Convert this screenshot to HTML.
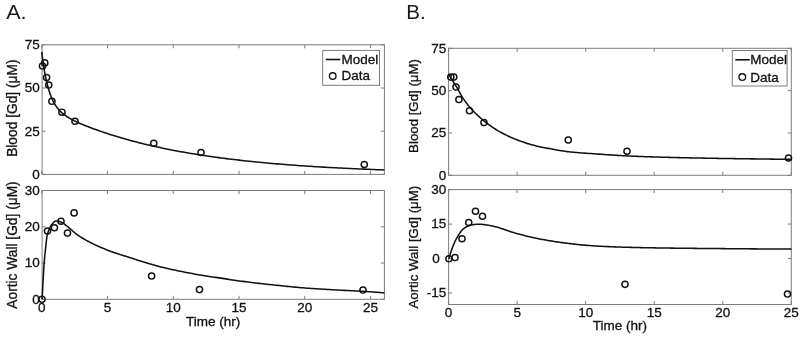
<!DOCTYPE html>
<html><head><meta charset="utf-8"><title>Figure</title>
<style>
html,body{margin:0;padding:0;background:#fff;}
svg{display:block;}
text{font-family:"Liberation Sans",sans-serif;font-size:13.5px;fill:#111;stroke:#111;stroke-width:0.3px;}
</style></head><body>
<svg width="800" height="337" viewBox="0 0 800 337">
<rect width="800" height="337" fill="#fff"/>
<rect x="42.1" y="44.8" width="342.29999999999995" height="129.60000000000002" fill="none" stroke="#7d7d7d" stroke-width="1"/>
<path d="M41.75,174.4v-3.5M41.75,44.8v3.5M107.50,174.4v-3.5M107.50,44.8v3.5M173.25,174.4v-3.5M173.25,44.8v3.5M239.00,174.4v-3.5M239.00,44.8v3.5M304.75,174.4v-3.5M304.75,44.8v3.5M370.50,174.4v-3.5M370.50,44.8v3.5M42.1,174.40h3.5M384.4,174.40h-3.5M42.1,131.20h3.5M384.4,131.20h-3.5M42.1,88.00h3.5M384.4,88.00h-3.5M42.1,44.80h3.5M384.4,44.80h-3.5" stroke="#7d7d7d" stroke-width="1" fill="none"/>
<text x="39.7" y="178.75" text-anchor="end">0</text>
<text x="39.7" y="135.55" text-anchor="end">25</text>
<text x="39.7" y="92.35" text-anchor="end">50</text>
<text x="39.7" y="49.15" text-anchor="end">75</text>
<path d="M41.75,51.88 L42.08,54.57 L42.41,57.14 L42.74,59.60 L43.08,61.95 L43.41,64.20 L43.74,66.35 L44.07,68.41 L44.40,70.38 L44.73,72.27 L45.07,74.07 L45.40,75.80 L45.73,77.46 L46.06,79.05 L46.39,80.57 L46.72,82.02 L47.05,83.42 L47.39,84.76 L47.72,86.04 L48.05,87.27 L48.38,88.46 L48.71,89.59 L49.04,90.68 L49.37,91.72 L49.71,92.73 L50.04,93.69 L50.37,94.62 L50.70,95.51 L51.03,96.37 L51.36,97.19 L51.70,97.99 L52.03,98.75 L52.36,99.49 L52.69,100.19 L53.02,100.88 L53.35,101.53 L53.68,102.17 L54.02,102.78 L54.35,103.37 L54.68,103.94 L55.01,104.49 L55.34,105.03 L55.67,105.54 L56.01,106.04 L56.34,106.52 L56.67,106.99 L57.00,107.44 L57.33,107.88 L57.66,108.30 L57.99,108.72 L58.33,109.12 L58.66,109.50 L58.99,109.88 L59.32,110.25 L59.65,110.60 L59.98,110.95 L60.31,111.29 L60.65,111.62 L60.98,111.94 L61.31,112.25 L61.64,112.55 L61.97,112.85 L62.30,113.14 L62.64,113.42 L62.97,113.70 L63.30,113.97 L63.63,114.24 L63.96,114.49 L64.29,114.75 L64.62,115.00 L64.96,115.24 L65.29,115.48 L65.62,115.71 L65.95,115.94 L66.28,116.17 L66.61,116.39 L66.94,116.61 L67.28,116.83 L67.61,117.04 L67.94,117.25 L68.27,117.45 L68.60,117.65 L68.93,117.85 L69.27,118.05 L69.60,118.24 L69.93,118.43 L70.26,118.62 L70.59,118.81 L70.92,118.99 L71.25,119.17 L71.59,119.35 L71.92,119.53 L72.25,119.70 L72.58,119.88 L72.91,120.05 L73.24,120.22 L73.58,120.39 L73.91,120.55 L74.24,120.72 L74.57,120.88 L74.90,121.04 L75.23,121.20 L75.56,121.36 L75.90,121.52 L76.23,121.68 L76.56,121.83 L76.89,121.99 L77.22,122.14 L77.55,122.29 L77.88,122.44 L78.22,122.59 L78.55,122.74 L78.88,122.89 L79.21,123.04 L79.54,123.18 L79.87,123.33 L80.21,123.47 L80.54,123.62 L80.87,123.76 L81.20,123.90 L83.75,124.97 L86.29,126.00 L88.84,127.00 L91.39,127.97 L93.94,128.92 L96.48,129.84 L99.03,130.75 L101.58,131.63 L104.12,132.49 L106.67,133.34 L109.22,134.17 L111.77,134.98 L114.31,135.77 L116.86,136.55 L119.41,137.31 L121.95,138.06 L124.50,138.79 L127.05,139.51 L129.60,140.21 L132.14,140.90 L134.69,141.57 L137.24,142.23 L139.78,142.88 L142.33,143.52 L144.88,144.14 L147.43,144.75 L149.97,145.34 L152.52,145.93 L155.07,146.50 L157.61,147.06 L160.16,147.61 L162.71,148.15 L165.26,148.68 L167.80,149.20 L170.35,149.71 L172.90,150.20 L175.44,150.69 L177.99,151.17 L180.54,151.64 L183.08,152.09 L185.63,152.54 L188.18,152.98 L190.73,153.42 L193.27,153.84 L195.82,154.25 L198.37,154.66 L200.91,155.05 L203.46,155.44 L206.01,155.83 L208.56,156.20 L211.10,156.57 L213.65,156.93 L216.20,157.28 L218.74,157.62 L221.29,157.96 L223.84,158.29 L226.39,158.61 L228.93,158.93 L231.48,159.24 L234.03,159.55 L236.57,159.85 L239.12,160.14 L241.67,160.43 L244.22,160.71 L246.76,160.99 L249.31,161.26 L251.86,161.52 L254.40,161.78 L256.95,162.03 L259.50,162.28 L262.05,162.53 L264.59,162.77 L267.14,163.00 L269.69,163.23 L272.23,163.45 L274.78,163.67 L277.33,163.89 L279.88,164.10 L282.42,164.31 L284.97,164.51 L287.52,164.71 L290.06,164.91 L292.61,165.10 L295.16,165.28 L297.71,165.47 L300.25,165.65 L302.80,165.82 L305.35,166.00 L307.89,166.17 L310.44,166.33 L312.99,166.49 L315.54,166.65 L318.08,166.81 L320.63,166.96 L323.18,167.11 L325.72,167.26 L328.27,167.40 L330.82,167.54 L333.37,167.68 L335.91,167.82 L338.46,167.95 L341.01,168.08 L343.55,168.21 L346.10,168.33 L348.65,168.45 L351.19,168.57 L353.74,168.69 L356.29,168.81 L358.84,168.92 L361.38,169.03 L363.93,169.14 L366.48,169.24 L369.02,169.35 L371.57,169.45 L374.12,169.55 L376.67,169.65 L379.21,169.74 L381.76,169.83 L384.31,169.93" fill="none" stroke="#111" stroke-width="1.55" stroke-linejoin="round"/>
<circle cx="42.50" cy="66.00" r="3.1" fill="none" stroke="#111" stroke-width="1.45"/>
<circle cx="44.75" cy="62.90" r="3.1" fill="none" stroke="#111" stroke-width="1.45"/>
<circle cx="46.60" cy="77.50" r="3.1" fill="none" stroke="#111" stroke-width="1.45"/>
<circle cx="48.75" cy="85.00" r="3.1" fill="none" stroke="#111" stroke-width="1.45"/>
<circle cx="51.90" cy="101.25" r="3.1" fill="none" stroke="#111" stroke-width="1.45"/>
<circle cx="62.00" cy="112.20" r="3.1" fill="none" stroke="#111" stroke-width="1.45"/>
<circle cx="75.00" cy="121.25" r="3.1" fill="none" stroke="#111" stroke-width="1.45"/>
<circle cx="153.75" cy="143.25" r="3.1" fill="none" stroke="#111" stroke-width="1.45"/>
<circle cx="201.00" cy="152.50" r="3.1" fill="none" stroke="#111" stroke-width="1.45"/>
<circle cx="364.30" cy="164.50" r="3.1" fill="none" stroke="#111" stroke-width="1.45"/>
<rect x="322.7" y="50.4" width="56.80" height="34.90" fill="#fff" stroke="#7d7d7d" stroke-width="1"/>
<path d="M325.7,59.50h14.5" stroke="#111" stroke-width="1.6"/>
<circle cx="332.7" cy="76.00" r="3.3" fill="none" stroke="#111" stroke-width="1.35"/>
<text x="341.5" y="64.10">Model</text>
<text x="341.5" y="80.30">Data</text>
<rect x="42.1" y="190.5" width="342.29999999999995" height="108.80000000000001" fill="none" stroke="#7d7d7d" stroke-width="1"/>
<path d="M41.75,299.3v-3.5M41.75,190.5v3.5M107.50,299.3v-3.5M107.50,190.5v3.5M173.25,299.3v-3.5M173.25,190.5v3.5M239.00,299.3v-3.5M239.00,190.5v3.5M304.75,299.3v-3.5M304.75,190.5v3.5M370.50,299.3v-3.5M370.50,190.5v3.5M42.1,299.30h3.5M384.4,299.30h-3.5M42.1,263.03h3.5M384.4,263.03h-3.5M42.1,226.77h3.5M384.4,226.77h-3.5M42.1,190.50h3.5M384.4,190.50h-3.5" stroke="#7d7d7d" stroke-width="1" fill="none"/>
<text x="39.7" y="303.65" text-anchor="end">0</text>
<text x="39.7" y="267.38" text-anchor="end">10</text>
<text x="39.7" y="231.12" text-anchor="end">20</text>
<text x="39.7" y="194.85" text-anchor="end">30</text>
<text x="41.75" y="311.90" text-anchor="middle">0</text>
<text x="107.50" y="311.90" text-anchor="middle">5</text>
<text x="173.25" y="311.90" text-anchor="middle">10</text>
<text x="239.00" y="311.90" text-anchor="middle">15</text>
<text x="304.75" y="311.90" text-anchor="middle">20</text>
<text x="370.50" y="311.90" text-anchor="middle">25</text>
<path d="M42.10,299.30 L42.10,299.23 L42.12,299.02 L42.13,298.66 L42.16,298.16 L42.20,297.52 L42.24,296.74 L42.29,295.82 L42.35,294.75 L42.41,293.54 L42.48,292.18 L42.56,290.69 L42.65,289.03 L42.75,287.21 L42.85,285.21 L42.96,283.05 L43.08,280.77 L43.21,278.41 L43.34,276.01 L43.48,273.63 L43.63,271.17 L43.79,268.64 L43.95,266.10 L44.13,263.59 L44.31,261.17 L44.49,258.91 L44.69,256.78 L44.89,254.74 L45.10,252.74 L45.32,250.73 L45.55,248.63 L45.78,246.39 L46.02,244.07 L46.27,241.78 L46.53,239.61 L46.79,237.70 L47.06,236.19 L47.34,234.92 L47.63,233.76 L47.92,232.71 L48.23,231.76 L48.54,230.88 L48.85,230.06 L49.18,229.27 L49.51,228.50 L49.85,227.75 L50.20,227.04 L50.56,226.36 L50.92,225.72 L51.29,225.13 L51.67,224.60 L52.06,224.13 L52.45,223.68 L52.86,223.22 L53.26,222.77 L53.68,222.34 L54.11,221.93 L54.54,221.58 L54.98,221.30 L55.43,221.10 L55.88,221.00 L56.35,221.01 L56.82,221.04 L57.30,221.09 L57.78,221.17 L58.28,221.26 L58.78,221.37 L59.29,221.50 L59.80,221.64 L60.33,221.80 L60.86,221.96 L61.40,222.14 L61.95,222.39 L62.50,222.71 L63.07,223.07 L63.64,223.48 L64.22,223.92 L64.80,224.38 L65.39,224.84 L66.00,225.30 L66.60,225.76 L67.22,226.25 L67.84,226.77 L68.48,227.31 L69.12,227.86 L69.76,228.43 L70.42,229.00 L71.08,229.57 L71.75,230.16 L72.43,230.77 L73.11,231.39 L73.81,232.01 L74.51,232.62 L75.22,233.20 L75.93,233.75 L76.66,234.28 L77.39,234.80 L78.13,235.32 L78.87,235.82 L79.63,236.32 L80.39,236.80 L81.16,237.29 L81.94,237.77 L82.72,238.24 L83.51,238.71 L84.31,239.18 L85.12,239.65 L85.94,240.11 L86.76,240.57 L87.59,241.02 L88.43,241.47 L89.27,241.92 L90.13,242.36 L90.99,242.80 L91.86,243.24 L92.74,243.67 L93.62,244.11 L94.51,244.53 L95.41,244.96 L96.32,245.37 L97.23,245.79 L98.16,246.20 L99.09,246.60 L100.03,247.01 L100.97,247.42 L101.93,247.83 L102.89,248.25 L103.85,248.66 L104.83,249.08 L105.82,249.49 L106.81,249.90 L107.81,250.30 L108.81,250.70 L109.83,251.09 L110.85,251.47 L111.88,251.84 L112.92,252.21 L113.96,252.57 L115.02,252.92 L116.08,253.27 L117.14,253.61 L118.22,253.95 L119.30,254.29 L120.40,254.63 L121.49,254.97 L122.60,255.30 L123.72,255.65 L124.84,255.99 L125.97,256.34 L127.10,256.69 L128.25,257.06 L129.40,257.43 L130.56,257.81 L131.73,258.20 L132.90,258.59 L134.09,258.98 L135.28,259.38 L136.48,259.77 L137.68,260.17 L138.90,260.55 L140.12,260.94 L141.35,261.32 L142.58,261.70 L143.83,262.08 L145.08,262.46 L146.34,262.85 L147.61,263.23 L148.88,263.61 L150.16,263.99 L151.45,264.36 L152.75,264.74 L154.06,265.11 L155.37,265.47 L156.69,265.83 L158.02,266.19 L159.36,266.54 L160.70,266.88 L162.05,267.21 L163.41,267.54 L164.78,267.87 L166.15,268.19 L167.54,268.51 L168.93,268.83 L170.32,269.14 L171.73,269.45 L173.14,269.76 L174.56,270.06 L175.99,270.36 L177.43,270.67 L178.87,270.97 L180.32,271.27 L181.78,271.56 L183.25,271.86 L184.72,272.16 L186.20,272.46 L187.69,272.75 L189.19,273.04 L190.69,273.33 L192.20,273.61 L193.72,273.90 L195.25,274.17 L196.79,274.45 L198.33,274.72 L199.88,274.98 L201.44,275.24 L203.01,275.49 L204.58,275.73 L206.16,275.98 L207.75,276.21 L209.35,276.45 L210.95,276.68 L212.56,276.92 L214.18,277.15 L215.81,277.38 L217.44,277.62 L219.09,277.86 L220.74,278.11 L222.40,278.36 L224.06,278.62 L225.73,278.88 L227.41,279.14 L229.10,279.40 L230.80,279.66 L232.50,279.92 L234.21,280.17 L235.93,280.43 L237.66,280.67 L239.40,280.92 L241.14,281.15 L242.89,281.39 L244.64,281.62 L246.41,281.85 L248.18,282.07 L249.96,282.30 L251.75,282.52 L253.55,282.74 L255.35,282.95 L257.16,283.17 L258.98,283.38 L260.81,283.59 L262.64,283.80 L264.48,284.00 L266.33,284.20 L268.19,284.40 L270.05,284.60 L271.92,284.79 L273.80,284.99 L275.69,285.18 L277.59,285.38 L279.49,285.58 L281.40,285.78 L283.32,285.98 L285.25,286.18 L287.18,286.38 L289.12,286.57 L291.07,286.77 L293.03,286.96 L294.99,287.14 L296.96,287.32 L298.94,287.50 L300.93,287.67 L302.92,287.84 L304.93,287.99 L306.94,288.15 L308.95,288.29 L310.98,288.44 L313.01,288.57 L315.05,288.71 L317.10,288.84 L319.16,288.97 L321.22,289.10 L323.29,289.23 L325.37,289.35 L327.46,289.47 L329.55,289.59 L331.65,289.71 L333.76,289.83 L335.88,289.95 L338.01,290.06 L340.14,290.17 L342.28,290.28 L344.43,290.38 L346.58,290.48 L348.75,290.59 L350.92,290.69 L353.10,290.79 L355.28,290.90 L357.48,291.02 L359.68,291.14 L361.89,291.26 L364.10,291.40 L366.33,291.54 L368.56,291.69 L370.80,291.85 L373.05,292.01 L375.30,292.18 L377.57,292.35 L379.84,292.53 L382.11,292.71 L384.40,292.90" fill="none" stroke="#111" stroke-width="1.55" stroke-linejoin="round"/>
<circle cx="42.00" cy="299.30" r="3.1" fill="none" stroke="#111" stroke-width="1.45"/>
<circle cx="47.50" cy="231.00" r="3.1" fill="none" stroke="#111" stroke-width="1.45"/>
<circle cx="54.40" cy="227.75" r="3.1" fill="none" stroke="#111" stroke-width="1.45"/>
<circle cx="61.00" cy="221.25" r="3.1" fill="none" stroke="#111" stroke-width="1.45"/>
<circle cx="67.50" cy="233.10" r="3.1" fill="none" stroke="#111" stroke-width="1.45"/>
<circle cx="74.10" cy="212.90" r="3.1" fill="none" stroke="#111" stroke-width="1.45"/>
<circle cx="151.60" cy="276.00" r="3.1" fill="none" stroke="#111" stroke-width="1.45"/>
<circle cx="199.50" cy="289.60" r="3.1" fill="none" stroke="#111" stroke-width="1.45"/>
<circle cx="363.00" cy="290.00" r="3.1" fill="none" stroke="#111" stroke-width="1.45"/>
<rect x="448.6" y="48.3" width="342.69999999999993" height="127.00000000000001" fill="none" stroke="#7d7d7d" stroke-width="1"/>
<path d="M448.60,175.3v-3.5M448.60,48.3v3.5M517.14,175.3v-3.5M517.14,48.3v3.5M585.68,175.3v-3.5M585.68,48.3v3.5M654.22,175.3v-3.5M654.22,48.3v3.5M722.76,175.3v-3.5M722.76,48.3v3.5M791.30,175.3v-3.5M791.30,48.3v3.5M448.6,175.30h3.5M791.3,175.30h-3.5M448.6,132.97h3.5M791.3,132.97h-3.5M448.6,90.63h3.5M791.3,90.63h-3.5M448.6,48.30h3.5M791.3,48.30h-3.5" stroke="#7d7d7d" stroke-width="1" fill="none"/>
<text x="446.20000000000005" y="179.65" text-anchor="end">0</text>
<text x="446.20000000000005" y="137.32" text-anchor="end">25</text>
<text x="446.20000000000005" y="94.98" text-anchor="end">50</text>
<text x="446.20000000000005" y="52.65" text-anchor="end">75</text>
<path d="M448.80,74.60 L448.80,74.61 L448.82,74.62 L448.83,74.65 L448.86,74.69 L448.90,74.75 L448.94,74.81 L448.99,74.89 L449.05,74.98 L449.11,75.08 L449.18,75.19 L449.26,75.32 L449.35,75.45 L449.45,75.60 L449.55,75.76 L449.66,75.93 L449.78,76.12 L449.91,76.31 L450.04,76.52 L450.18,76.74 L450.33,76.97 L450.49,77.22 L450.65,77.48 L450.83,77.75 L451.01,78.03 L451.19,78.32 L451.39,78.63 L451.59,78.95 L451.80,79.28 L452.02,79.63 L452.25,79.98 L452.48,80.35 L452.72,80.74 L452.97,81.13 L453.23,81.54 L453.49,81.96 L453.77,82.39 L454.04,82.83 L454.33,83.29 L454.63,83.76 L454.93,84.24 L455.24,84.74 L455.56,85.26 L455.88,85.79 L456.22,86.33 L456.56,86.89 L456.91,87.47 L457.26,88.08 L457.63,88.71 L458.00,89.37 L458.38,90.06 L458.76,90.77 L459.16,91.50 L459.56,92.25 L459.97,93.01 L460.39,93.79 L460.81,94.56 L461.25,95.34 L461.69,96.10 L462.14,96.85 L462.59,97.58 L463.06,98.28 L463.53,98.98 L464.01,99.68 L464.49,100.38 L464.99,101.08 L465.49,101.77 L466.00,102.47 L466.51,103.16 L467.04,103.84 L467.57,104.53 L468.11,105.21 L468.66,105.88 L469.22,106.55 L469.78,107.22 L470.35,107.89 L470.93,108.54 L471.51,109.20 L472.11,109.84 L472.71,110.49 L473.32,111.13 L473.94,111.77 L474.56,112.41 L475.19,113.05 L475.83,113.68 L476.48,114.31 L477.13,114.93 L477.80,115.56 L478.47,116.18 L479.15,116.79 L479.83,117.40 L480.52,118.01 L481.23,118.62 L481.93,119.22 L482.65,119.82 L483.38,120.41 L484.11,121.01 L484.85,121.60 L485.59,122.19 L486.35,122.77 L487.11,123.36 L487.88,123.94 L488.66,124.52 L489.44,125.10 L490.24,125.67 L491.04,126.24 L491.85,126.81 L492.66,127.36 L493.49,127.92 L494.32,128.46 L495.16,129.00 L496.00,129.52 L496.86,130.04 L497.72,130.55 L498.59,131.05 L499.47,131.55 L500.35,132.05 L501.24,132.54 L502.14,133.03 L503.05,133.51 L503.97,133.99 L504.89,134.46 L505.82,134.93 L506.76,135.39 L507.71,135.85 L508.66,136.30 L509.62,136.75 L510.59,137.19 L511.57,137.62 L512.55,138.05 L513.54,138.47 L514.54,138.88 L515.55,139.28 L516.57,139.68 L517.59,140.07 L518.62,140.47 L519.66,140.85 L520.71,141.23 L521.76,141.61 L522.82,141.98 L523.89,142.35 L524.97,142.71 L526.05,143.06 L527.14,143.41 L528.24,143.75 L529.35,144.08 L530.46,144.40 L531.59,144.72 L532.72,145.02 L533.85,145.32 L535.00,145.60 L536.15,145.88 L537.31,146.16 L538.48,146.42 L539.66,146.68 L540.84,146.94 L542.03,147.19 L543.23,147.43 L544.44,147.67 L545.65,147.91 L546.87,148.15 L548.10,148.38 L549.34,148.61 L550.59,148.84 L551.84,149.07 L553.10,149.30 L554.37,149.52 L555.64,149.75 L556.93,149.98 L558.22,150.20 L559.52,150.42 L560.82,150.64 L562.14,150.85 L563.46,151.05 L564.79,151.25 L566.13,151.44 L567.47,151.61 L568.82,151.78 L570.18,151.93 L571.55,152.08 L572.93,152.22 L574.31,152.35 L575.70,152.48 L577.10,152.60 L578.50,152.71 L579.92,152.82 L581.34,152.93 L582.77,153.03 L584.20,153.13 L585.65,153.22 L587.10,153.31 L588.56,153.41 L590.03,153.50 L591.50,153.60 L592.99,153.70 L594.48,153.80 L595.97,153.91 L597.48,154.01 L598.99,154.12 L600.51,154.22 L602.04,154.33 L603.58,154.44 L605.12,154.55 L606.67,154.66 L608.23,154.76 L609.80,154.87 L611.37,154.98 L612.96,155.08 L614.55,155.19 L616.14,155.29 L617.75,155.39 L619.36,155.49 L620.98,155.58 L622.61,155.67 L624.25,155.76 L625.89,155.85 L627.54,155.93 L629.20,156.01 L630.87,156.08 L632.54,156.16 L634.22,156.23 L635.91,156.31 L637.61,156.38 L639.31,156.45 L641.03,156.52 L642.75,156.59 L644.47,156.65 L646.21,156.71 L647.95,156.78 L649.70,156.84 L651.46,156.89 L653.23,156.95 L655.00,157.00 L656.78,157.05 L658.57,157.10 L660.37,157.15 L662.17,157.20 L663.99,157.25 L665.81,157.30 L667.63,157.34 L669.47,157.39 L671.31,157.44 L673.16,157.48 L675.02,157.53 L676.89,157.57 L678.76,157.61 L680.64,157.66 L682.53,157.70 L684.43,157.74 L686.33,157.78 L688.24,157.82 L690.16,157.86 L692.09,157.90 L694.02,157.94 L695.96,157.98 L697.91,158.01 L699.87,158.05 L701.84,158.09 L703.81,158.12 L705.79,158.16 L707.78,158.20 L709.78,158.23 L711.78,158.26 L713.79,158.30 L715.81,158.33 L717.84,158.37 L719.87,158.40 L721.91,158.43 L723.96,158.46 L726.02,158.50 L728.08,158.53 L730.16,158.56 L732.24,158.59 L734.32,158.62 L736.42,158.65 L738.52,158.68 L740.63,158.72 L742.75,158.75 L744.88,158.78 L747.01,158.81 L749.15,158.84 L751.30,158.86 L753.46,158.89 L755.63,158.92 L757.80,158.95 L759.98,158.98 L762.16,159.00 L764.36,159.03 L766.56,159.06 L768.77,159.08 L770.99,159.11 L773.22,159.13 L775.45,159.15 L777.69,159.18 L779.94,159.20 L782.20,159.22 L784.46,159.24 L786.73,159.26 L789.01,159.28 L791.30,159.30" fill="none" stroke="#111" stroke-width="1.55" stroke-linejoin="round"/>
<circle cx="450.80" cy="77.10" r="3.1" fill="none" stroke="#111" stroke-width="1.45"/>
<circle cx="453.80" cy="77.10" r="3.1" fill="none" stroke="#111" stroke-width="1.45"/>
<circle cx="456.00" cy="87.00" r="3.1" fill="none" stroke="#111" stroke-width="1.45"/>
<circle cx="458.90" cy="99.50" r="3.1" fill="none" stroke="#111" stroke-width="1.45"/>
<circle cx="469.50" cy="110.75" r="3.1" fill="none" stroke="#111" stroke-width="1.45"/>
<circle cx="484.00" cy="122.50" r="3.1" fill="none" stroke="#111" stroke-width="1.45"/>
<circle cx="568.25" cy="140.00" r="3.1" fill="none" stroke="#111" stroke-width="1.45"/>
<circle cx="627.00" cy="151.25" r="3.1" fill="none" stroke="#111" stroke-width="1.45"/>
<circle cx="788.50" cy="158.00" r="3.1" fill="none" stroke="#111" stroke-width="1.45"/>
<rect x="732.3" y="50.5" width="54.80" height="35.50" fill="#fff" stroke="#7d7d7d" stroke-width="1"/>
<path d="M735.3,59.80h14.5" stroke="#111" stroke-width="1.6"/>
<circle cx="742.3" cy="77.10" r="3.3" fill="none" stroke="#111" stroke-width="1.35"/>
<text x="750.1999999999999" y="64.40">Model</text>
<text x="750.1999999999999" y="81.70">Data</text>
<rect x="448.6" y="189.6" width="342.69999999999993" height="114.9" fill="none" stroke="#7d7d7d" stroke-width="1"/>
<path d="M448.60,304.5v-3.5M448.60,189.6v3.5M517.14,304.5v-3.5M517.14,189.6v3.5M585.68,304.5v-3.5M585.68,189.6v3.5M654.22,304.5v-3.5M654.22,189.6v3.5M722.76,304.5v-3.5M722.76,189.6v3.5M791.30,304.5v-3.5M791.30,189.6v3.5M448.6,293.01h3.5M791.3,293.01h-3.5M448.6,258.54h3.5M791.3,258.54h-3.5M448.6,224.07h3.5M791.3,224.07h-3.5M448.6,189.60h3.5M791.3,189.60h-3.5" stroke="#7d7d7d" stroke-width="1" fill="none"/>
<text x="446.20000000000005" y="297.36" text-anchor="end">-15</text>
<text x="439.8" y="262.89" text-anchor="end">0</text>
<text x="446.20000000000005" y="228.42" text-anchor="end">15</text>
<text x="446.20000000000005" y="193.95" text-anchor="end">30</text>
<text x="448.60" y="317.10" text-anchor="middle">0</text>
<text x="517.14" y="317.10" text-anchor="middle">5</text>
<text x="585.68" y="317.10" text-anchor="middle">10</text>
<text x="654.22" y="317.10" text-anchor="middle">15</text>
<text x="722.76" y="317.10" text-anchor="middle">20</text>
<text x="791.30" y="317.10" text-anchor="middle">25</text>
<path d="M448.80,258.80 L448.80,258.79 L448.82,258.75 L448.83,258.68 L448.86,258.59 L448.90,258.47 L448.94,258.32 L448.99,258.15 L449.05,257.96 L449.11,257.73 L449.18,257.49 L449.26,257.21 L449.35,256.92 L449.45,256.60 L449.55,256.25 L449.66,255.89 L449.78,255.50 L449.91,255.09 L450.04,254.65 L450.18,254.20 L450.33,253.73 L450.49,253.24 L450.65,252.73 L450.83,252.21 L451.01,251.67 L451.19,251.11 L451.39,250.54 L451.59,249.96 L451.80,249.37 L452.02,248.76 L452.25,248.15 L452.48,247.52 L452.72,246.88 L452.97,246.24 L453.23,245.58 L453.49,244.92 L453.77,244.26 L454.04,243.60 L454.33,242.94 L454.63,242.28 L454.93,241.64 L455.24,241.00 L455.56,240.36 L455.88,239.72 L456.22,239.08 L456.56,238.45 L456.91,237.82 L457.26,237.20 L457.63,236.58 L458.00,235.96 L458.38,235.35 L458.76,234.74 L459.16,234.12 L459.56,233.50 L459.97,232.88 L460.39,232.26 L460.81,231.66 L461.25,231.09 L461.69,230.55 L462.14,230.06 L462.59,229.62 L463.06,229.19 L463.53,228.78 L464.01,228.38 L464.49,228.01 L464.99,227.65 L465.49,227.32 L466.00,227.01 L466.51,226.74 L467.04,226.49 L467.57,226.26 L468.11,226.03 L468.66,225.81 L469.22,225.60 L469.78,225.40 L470.35,225.22 L470.93,225.06 L471.51,224.91 L472.11,224.79 L472.71,224.70 L473.32,224.62 L473.94,224.54 L474.56,224.47 L475.19,224.40 L475.83,224.33 L476.48,224.28 L477.13,224.24 L477.80,224.21 L478.47,224.20 L479.15,224.21 L479.83,224.23 L480.52,224.26 L481.23,224.31 L481.93,224.38 L482.65,224.45 L483.38,224.54 L484.11,224.63 L484.85,224.73 L485.59,224.83 L486.35,224.94 L487.11,225.05 L487.88,225.15 L488.66,225.28 L489.44,225.41 L490.24,225.56 L491.04,225.73 L491.85,225.90 L492.66,226.09 L493.49,226.28 L494.32,226.48 L495.16,226.69 L496.00,226.90 L496.86,227.12 L497.72,227.36 L498.59,227.60 L499.47,227.87 L500.35,228.14 L501.24,228.43 L502.14,228.73 L503.05,229.04 L503.97,229.35 L504.89,229.67 L505.82,230.00 L506.76,230.33 L507.71,230.66 L508.66,230.99 L509.62,231.32 L510.59,231.64 L511.57,231.96 L512.55,232.28 L513.54,232.58 L514.54,232.87 L515.55,233.15 L516.57,233.43 L517.59,233.71 L518.62,233.99 L519.66,234.26 L520.71,234.54 L521.76,234.82 L522.82,235.09 L523.89,235.37 L524.97,235.64 L526.05,235.91 L527.14,236.18 L528.24,236.44 L529.35,236.71 L530.46,236.97 L531.59,237.23 L532.72,237.48 L533.85,237.73 L535.00,237.98 L536.15,238.23 L537.31,238.47 L538.48,238.70 L539.66,238.93 L540.84,239.16 L542.03,239.39 L543.23,239.61 L544.44,239.83 L545.65,240.05 L546.87,240.26 L548.10,240.48 L549.34,240.69 L550.59,240.89 L551.84,241.10 L553.10,241.30 L554.37,241.50 L555.64,241.70 L556.93,241.89 L558.22,242.08 L559.52,242.27 L560.82,242.45 L562.14,242.63 L563.46,242.80 L564.79,242.97 L566.13,243.14 L567.47,243.31 L568.82,243.48 L570.18,243.64 L571.55,243.80 L572.93,243.97 L574.31,244.12 L575.70,244.28 L577.10,244.43 L578.50,244.58 L579.92,244.73 L581.34,244.87 L582.77,245.01 L584.20,245.14 L585.65,245.26 L587.10,245.38 L588.56,245.50 L590.03,245.60 L591.50,245.70 L592.99,245.80 L594.48,245.90 L595.97,245.99 L597.48,246.08 L598.99,246.17 L600.51,246.25 L602.04,246.33 L603.58,246.41 L605.12,246.49 L606.67,246.56 L608.23,246.63 L609.80,246.70 L611.37,246.76 L612.96,246.83 L614.55,246.88 L616.14,246.94 L617.75,246.99 L619.36,247.05 L620.98,247.10 L622.61,247.15 L624.25,247.20 L625.89,247.25 L627.54,247.30 L629.20,247.34 L630.87,247.39 L632.54,247.43 L634.22,247.47 L635.91,247.52 L637.61,247.56 L639.31,247.59 L641.03,247.63 L642.75,247.67 L644.47,247.70 L646.21,247.73 L647.95,247.77 L649.70,247.80 L651.46,247.82 L653.23,247.85 L655.00,247.88 L656.78,247.91 L658.57,247.93 L660.37,247.96 L662.17,247.99 L663.99,248.01 L665.81,248.04 L667.63,248.06 L669.47,248.08 L671.31,248.11 L673.16,248.13 L675.02,248.15 L676.89,248.18 L678.76,248.20 L680.64,248.22 L682.53,248.24 L684.43,248.26 L686.33,248.28 L688.24,248.30 L690.16,248.32 L692.09,248.34 L694.02,248.36 L695.96,248.38 L697.91,248.40 L699.87,248.42 L701.84,248.44 L703.81,248.46 L705.79,248.47 L707.78,248.49 L709.78,248.51 L711.78,248.53 L713.79,248.55 L715.81,248.56 L717.84,248.58 L719.87,248.60 L721.91,248.62 L723.96,248.63 L726.02,248.65 L728.08,248.67 L730.16,248.69 L732.24,248.70 L734.32,248.72 L736.42,248.74 L738.52,248.75 L740.63,248.77 L742.75,248.79 L744.88,248.80 L747.01,248.82 L749.15,248.84 L751.30,248.85 L753.46,248.87 L755.63,248.88 L757.80,248.90 L759.98,248.92 L762.16,248.93 L764.36,248.94 L766.56,248.96 L768.77,248.97 L770.99,248.99 L773.22,249.00 L775.45,249.01 L777.69,249.03 L779.94,249.04 L782.20,249.05 L784.46,249.07 L786.73,249.08 L789.01,249.09 L791.30,249.10" fill="none" stroke="#111" stroke-width="1.55" stroke-linejoin="round"/>
<circle cx="448.90" cy="258.75" r="3.1" fill="none" stroke="#111" stroke-width="1.45"/>
<circle cx="455.00" cy="257.50" r="3.1" fill="none" stroke="#111" stroke-width="1.45"/>
<circle cx="462.00" cy="238.75" r="3.1" fill="none" stroke="#111" stroke-width="1.45"/>
<circle cx="468.75" cy="222.50" r="3.1" fill="none" stroke="#111" stroke-width="1.45"/>
<circle cx="475.50" cy="211.25" r="3.1" fill="none" stroke="#111" stroke-width="1.45"/>
<circle cx="482.50" cy="216.25" r="3.1" fill="none" stroke="#111" stroke-width="1.45"/>
<circle cx="625.00" cy="284.30" r="3.1" fill="none" stroke="#111" stroke-width="1.45"/>
<circle cx="787.50" cy="294.00" r="3.1" fill="none" stroke="#111" stroke-width="1.45"/>
<text x="213.2" y="325.8" text-anchor="middle">Time (hr)</text>
<text x="619.8" y="330.1" text-anchor="middle">Time (hr)</text>
<text transform="translate(16.8,108.2) rotate(-90)" text-anchor="middle" style="font-size:13.75px">Blood [Gd] (μM)</text>
<text transform="translate(16.8,245) rotate(-90)" text-anchor="middle" style="font-size:13.75px">Aortic Wall [Gd] (μM)</text>
<text transform="translate(418.4,106) rotate(-90)" text-anchor="middle" style="font-size:13.25px">Blood [Gd] (μM)</text>
<text transform="translate(418.4,247.2) rotate(-90)" text-anchor="middle" style="font-size:13.25px">Aortic Wall [Gd] (μM)</text>
<text transform="translate(6.2,19.4) scale(1.08,1)" style="font-size:20px;stroke:none;fill:#1a1a1a">A.</text>
<text transform="translate(406.3,19.4) scale(1.03,1)" style="font-size:20px;stroke:none;fill:#1a1a1a">B.</text>
</svg>
</body></html>
